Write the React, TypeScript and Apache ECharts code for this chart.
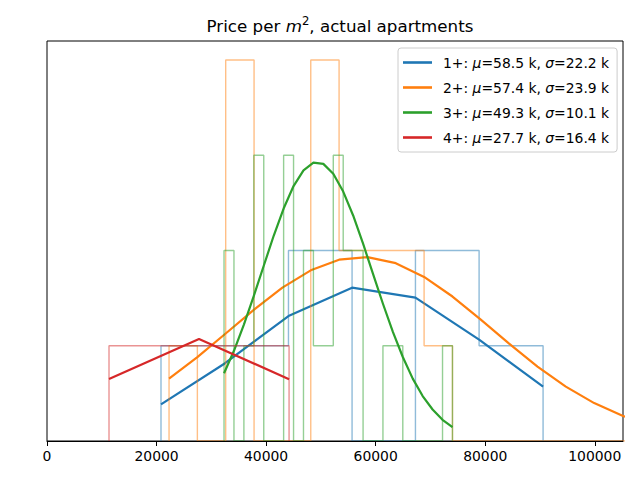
import React, { useEffect, useRef } from "react";
import * as echarts from "echarts";

// ---- data ----
const groupLabels = ["1+", "2+", "3+", "4+"];
const mus = [58.5, 57.4, 49.3, 27.7];
const sigmas = [22.2, 23.9, 10.1, 16.4];
const colors = ["#1f77b4", "#ff7f0e", "#2ca02c", "#d62728"];

const blueEdges = [20810, 32440, 44080, 55690, 67260, 78880, 90560];
const blueCounts = [1, 1, 2, 0, 2, 1];
const blueCurve = [0.385, 0.814, 1.312, 1.61, 1.505, 1.064, 0.57];

const orangeEdges = [22280, 27450, 32620, 37800, 42970, 48150, 53320, 58490, 63670, 68840, 74020, 79190, 84360, 89540, 94710, 99890, 105060, 110230];
const orangeCounts = [1, 0, 4, 0, 0, 4, 2, 2, 2, 1, 0, 0, 0, 0, 0, 0, 0];
const orangeCurve = [0.656, 0.881, 1.129, 1.38, 1.611, 1.792, 1.904, 1.93, 1.867, 1.723, 1.517, 1.275, 1.022, 0.782, 0.571, 0.398, 0.265, 0.168];

const greenEdges = [32317, 34130, 35943, 37756, 39569, 41383, 43196, 45009, 46822, 48635, 50448, 52261, 54074, 55887, 57700, 59514, 61327, 63140, 64953, 66766, 68579, 70392, 72205, 74018];
const greenCounts = [2, 0, 1, 3, 0, 0, 3, 0, 2, 1, 1, 3, 2, 2, 0, 0, 1, 1, 0, 0, 0, 0, 1];
const greenCurve = [0.712, 0.947, 1.222, 1.524, 1.84, 2.155, 2.441, 2.677, 2.842, 2.923, 2.91, 2.806, 2.619, 2.368, 2.072, 1.754, 1.441, 1.145, 0.882, 0.655, 0.472, 0.331, 0.223, 0.146];

const redEdges = [11320, 27750, 44190];
const redCounts = [1, 1];
const redCurve = [0.651, 1.071, 0.649];

const xTicks = [0, 20000, 40000, 60000, 80000, 100000];
const xMax = 105150;
const yMax = 4.2;

const FONT = "DejaVu Sans";

function stepOutline(edges: number[], counts: number[]) {
  const pts: number[][] = [[edges[0], 0]];
  for (let i = 0; i < counts.length; i++) {
    pts.push([edges[i], counts[i]]);
    pts.push([edges[i + 1], counts[i]]);
  }
  pts.push([edges[counts.length], 0]);
  return pts;
}

export default function App() {
  const ref = useRef<HTMLDivElement>(null);
  useEffect(() => {
    if (!ref.current) return;
    const chart = echarts.init(ref.current, null, { renderer: "svg" });
    const groups = [
      { edges: blueEdges, counts: blueCounts, curve: blueCurve },
      { edges: orangeEdges, counts: orangeCounts, curve: orangeCurve },
      { edges: greenEdges, counts: greenCounts, curve: greenCurve },
      { edges: redEdges, counts: redCounts, curve: redCurve },
    ];
    const names = groupLabels.map(
      (g, i) => `${g}: μ=${mus[i].toFixed(1)} k, σ=${sigmas[i].toFixed(1)} k`
    );
    const series: any[] = [];
    groups.forEach((g, i) => {
      series.push({
        name: "hist" + i,
        type: "line",
        data: stepOutline(g.edges, g.counts),
        symbol: "none",
        color: colors[i],
        lineStyle: { width: 1.4, color: colors[i], opacity: 0.5 },
        silent: true,
        z: 2,
      });
      series.push({
        name: names[i],
        type: "line",
        data: g.edges.map((e, k) => [e, g.curve[k]]),
        symbol: "none",
        color: colors[i],
        lineStyle: { width: 2.2, color: colors[i], cap: "butt", join: "round" },
        silent: true,
        z: 2,
      });
    });
    const richBase = { fontFamily: FONT, fontSize: 13.9, color: "#000" };
    chart.setOption({
      animation: false,
      backgroundColor: "#fff",
      title: {
        text: "Price per {i|m}{sup|2}, actual apartments",
        left: 335,
        top: 10,
        textAlign: "center",
        textStyle: {
          fontFamily: FONT,
          fontSize: 16.7,
          fontWeight: "normal",
          color: "#000",
          lineHeight: 22,
          rich: {
            i: { fontFamily: FONT, fontSize: 16.7, fontStyle: "italic", color: "#000", lineHeight: 22 },
            sup: { fontFamily: FONT, fontSize: 11.7, color: "#000", lineHeight: 12, verticalAlign: "top" },
          },
        },
      },
      grid: {
        left: 47,
        right: 17,
        top: 41,
        bottom: 39,
        show: true,
        borderColor: "#000",
        borderWidth: 1,
        backgroundColor: "transparent",
      },
      legend: {
        data: names,
        orient: "vertical",
        left: 398,
        top: 48,
        icon: "rect",
        itemWidth: 29,
        itemHeight: 2.6,
        itemGap: 8,
        padding: [6, 8, 6, 5],
        backgroundColor: "rgba(255,255,255,0.8)",
        borderColor: "#cccccc",
        borderWidth: 1,
        borderRadius: 3,
        selectedMode: false,
        formatter: (n: string) => n.replace("μ", "{i|μ}").replace("σ", "{i|σ}"),
        textStyle: {
          ...richBase,
          lineHeight: 17,
          padding: [0, 0, 0, 6],
          rich: {
            i: { ...richBase, fontStyle: "italic", lineHeight: 17 },
          },
        },
      },
      xAxis: {
        type: "value",
        min: 0,
        max: xMax,
        interval: 20000,
        z: 5,
        axisLine: { show: true, onZero: false, lineStyle: { color: "#000", width: 1 } },
        axisTick: { show: true, length: 5, lineStyle: { color: "#000", width: 1 } },
        axisLabel: {
          show: true,
          margin: 8,
          showMaxLabel: false,
          fontFamily: FONT,
          fontSize: 13.9,
          color: "#000",
          formatter: (v: number) => (xTicks.includes(v) ? String(v) : ""),
        },
        splitLine: { show: false },
      },
      yAxis: {
        type: "value",
        min: 0,
        max: yMax,
        show: false,
        splitLine: { show: false },
      },
      series,
    });
    return () => chart.dispose();
  }, []);
  return (
    <div
      ref={ref}
      style={{ position: "absolute", left: 0, top: 0, width: 640, height: 480 }}
    />
  );
}
